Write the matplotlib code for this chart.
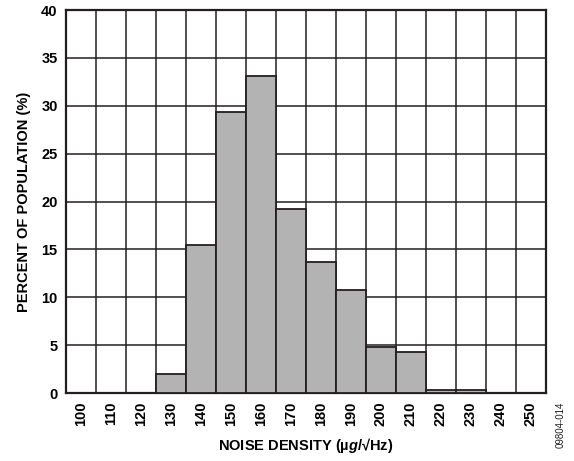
import numpy as np
import matplotlib.pyplot as plt
from matplotlib.ticker import FixedLocator

plt.rcParams['font.family'] = ['Liberation Sans', 'DejaVu Sans']
plt.rcParams['mathtext.fontset'] = 'custom'
plt.rcParams['mathtext.rm'] = 'Liberation Sans:bold'
plt.rcParams['mathtext.it'] = 'Liberation Sans:italic:bold'

# noise density bins (ug/rtHz) and percent of population
bins = ['100', '110', '120', '130', '140', '150', '160', '170',
        '180', '190', '200', '210', '220', '230', '240', '250']
percent = [0, 0, 0, 2.0, 15.5, 29.4, 33.1, 19.2,
           13.7, 10.8, 4.8, 4.3, 0.35, 0.35, 0, 0]

ink = '#231f20'

fig = plt.figure(figsize=(5.74, 4.61), dpi=100)
ax = fig.add_axes([0.115, 0.1475, 0.836, 0.8305])

x = np.arange(len(bins))
ax.bar(x, percent, width=1.0, color='#b3b3b3', edgecolor=ink, linewidth=1.3, zorder=3)

ax.set_xlim(-0.5, len(bins) - 0.5)
ax.set_ylim(0, 40)
ax.set_yticks(np.arange(0, 41, 5))
ax.set_xticks(x)
ax.set_xticklabels(bins, rotation=90, fontsize=10.5, fontweight='bold')
ax.xaxis.set_minor_locator(FixedLocator(np.arange(-0.5, len(bins), 1.0)))
ax.tick_params(axis='both', which='both', length=0)
ax.tick_params(axis='y', labelsize=10.5, pad=6)
ax.tick_params(axis='x', pad=6)
for lab in ax.get_yticklabels():
    lab.set_fontweight('bold')

ax.grid(True, axis='y', which='major', color=ink, linewidth=1.1, zorder=1)
ax.grid(True, axis='x', which='minor', color=ink, linewidth=1.1, zorder=1)
ax.set_axisbelow(True)
for s in ax.spines.values():
    s.set_color(ink)
    s.set_linewidth(1.6)

ax.set_xlabel(r'NOISE DENSITY (µ$\mathit{g}$/√Hz)', fontsize=10.5, fontweight='bold', labelpad=7)
ax.set_ylabel('PERCENT OF POPULATION (%)', fontsize=10.5, fontweight='bold', labelpad=7)

fig.text(0.977, 0.078, '09804-014', rotation=90, fontsize=7, color=ink, ha='center', va='center')

plt.savefig('out.png', dpi=100)
plt.close()
